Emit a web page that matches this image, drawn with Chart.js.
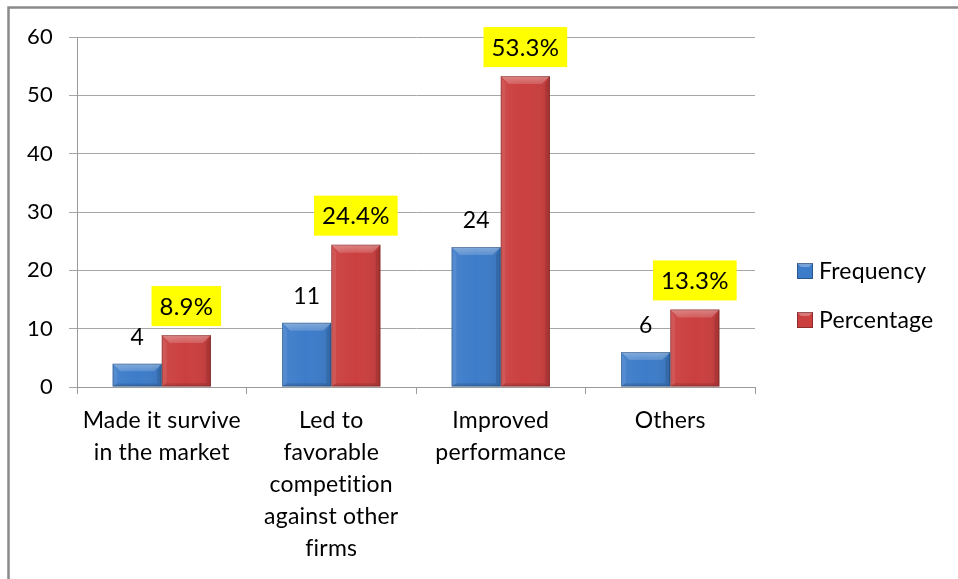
<!DOCTYPE html>
<html>
<head>
<meta charset="utf-8">
<script src="https://cdn.jsdelivr.net/npm/chart.js@4/dist/chart.umd.min.js"></script>
<style>
  html, body { margin: 0; padding: 0; background: #ffffff; }
  #wrap { width: 958px; height: 579px; position: relative; }
</style>
</head>
<body>
<div id="wrap"><canvas id="chart" width="958" height="579"></canvas></div>
<script>
// Categories and the two series
const categories = [
  ["Made it survive", "in the market"],
  ["Led to", "favorable", "competition", "against other", "firms"],
  ["Improved", "performance"],
  ["Others"]
];
const frequency = [4, 11, 24, 6];
const percentage = [8.9, 24.4, 53.3, 13.3];
const seriesNames = ["Frequency", "Percentage"];
const yTicks = [0, 10, 20, 30, 40, 50, 60];

const FONT = "Lato, 'Liberation Sans', sans-serif";
const BLUE = "#3d7cc9";
const RED = "#cb3f3f";

// Outer frame of the chart object; also turns off ligatures for all text
const framePlugin = {
  id: "frame",
  beforeDraw(chart) {
    const ctx = chart.ctx;
    if ("letterSpacing" in ctx) ctx.letterSpacing = "0.2px";
    ctx.save();
    ctx.strokeStyle = "#8a8a8a";
    ctx.lineWidth = 2.5;
    ctx.beginPath();
    ctx.moveTo(8.5, 579);
    ctx.lineTo(8.5, 7.5);
    ctx.lineTo(958, 7.5);
    ctx.stroke();
    ctx.restore();
  }
};

// Beveled look on each bar, drawn over the library's own bar elements
const bevelPlugin = {
  id: "bevel",
  afterDatasetsDraw(chart) {
    const ctx = chart.ctx;
    chart.data.datasets.forEach((ds, di) => {
      chart.getDatasetMeta(di).data.forEach(bar => {
        const l = bar.x - bar.width / 2, r = bar.x + bar.width / 2;
        const t = bar.y, b = bar.base;
        const h = b - t;
        const s = Math.min(8, h / 3, bar.width / 4);
        ctx.save();
        // side shading
        const g = ctx.createLinearGradient(l, 0, r, 0);
        g.addColorStop(0, "rgba(255,255,255,0.06)");
        g.addColorStop(0.5, "rgba(255,255,255,0)");
        g.addColorStop(1, "rgba(0,0,0,0.08)");
        ctx.fillStyle = g;
        ctx.fillRect(l, t, r - l, h);
        // top bevel
        const gt = ctx.createLinearGradient(0, t, 0, t + s);
        gt.addColorStop(0, "rgba(255,255,255,0.35)");
        gt.addColorStop(1, "rgba(255,255,255,0.15)");
        ctx.beginPath();
        ctx.moveTo(l, t); ctx.lineTo(r, t); ctx.lineTo(r - s, t + s); ctx.lineTo(l + s, t + s); ctx.closePath();
        ctx.fillStyle = gt;
        ctx.fill();
        // left bevel
        ctx.beginPath();
        ctx.moveTo(l, t); ctx.lineTo(l + s * 0.6, t + s); ctx.lineTo(l + s * 0.6, b - s * 0.4); ctx.lineTo(l, b); ctx.closePath();
        ctx.fillStyle = "rgba(255,255,255,0.08)";
        ctx.fill();
        // right bevel
        ctx.beginPath();
        ctx.moveTo(r, t); ctx.lineTo(r - s * 0.6, t + s); ctx.lineTo(r - s * 0.6, b - s * 0.4); ctx.lineTo(r, b); ctx.closePath();
        ctx.fillStyle = "rgba(0,0,0,0.10)";
        ctx.fill();
        // bottom bevel
        ctx.beginPath();
        ctx.moveTo(l, b); ctx.lineTo(l + s * 0.6, b - s * 0.4); ctx.lineTo(r - s * 0.6, b - s * 0.4); ctx.lineTo(r, b); ctx.closePath();
        ctx.fillStyle = "rgba(0,0,0,0.12)";
        ctx.fill();
        // outline
        ctx.strokeStyle = "rgba(0,0,0,0.22)";
        ctx.lineWidth = 1;
        ctx.strokeRect(l + 0.5, t + 0.5, r - l - 1, h - 1);
        ctx.restore();
      });
    });
  }
};

// Value labels: plain numbers for frequency, yellow boxes for percentage
const labelPlugin = {
  id: "valueLabels",
  afterDatasetsDraw(chart) {
    const ctx = chart.ctx;
    ctx.save();
    ctx.textAlign = "center";
    ctx.textBaseline = "middle";
    chart.getDatasetMeta(0).data.forEach((bar, i) => {
      ctx.font = "23px " + FONT;
      ctx.fillStyle = "#000000";
      ctx.fillText(String(frequency[i]), bar.x, bar.y - 26);
    });
    chart.getDatasetMeta(1).data.forEach((bar, i) => {
      const txt = percentage[i].toFixed(1) + "%";
      ctx.font = "24px " + FONT;
      const w = ctx.measureText(txt).width + 16;
      const hBox = 40;
      const cy = bar.y - 29;
      ctx.fillStyle = "#ffff00";
      ctx.fillRect(bar.x - w / 2, cy - hBox / 2, w, hBox);
      ctx.fillStyle = "#000000";
      ctx.fillText(txt, bar.x, cy + 1);
    });
    ctx.restore();
  }
};

// Legend on the right
const legendPlugin = {
  id: "sideLegend",
  afterDraw(chart) {
    const ctx = chart.ctx;
    const colors = [BLUE, RED];
    const ys = [271, 320];
    ctx.save();
    ctx.font = "23px " + FONT;
    ctx.textBaseline = "middle";
    ctx.textAlign = "left";
    seriesNames.forEach((name, i) => {
      const x = 797, y = ys[i];
      ctx.fillStyle = colors[i];
      ctx.fillRect(x, y - 8, 16, 16);
      ctx.fillStyle = "rgba(255,255,255,0.3)";
      ctx.beginPath();
      ctx.moveTo(x, y - 8); ctx.lineTo(x + 16, y - 8); ctx.lineTo(x + 12, y - 4); ctx.lineTo(x + 4, y - 4); ctx.closePath();
      ctx.fill();
      ctx.strokeStyle = "rgba(0,0,0,0.3)";
      ctx.lineWidth = 1;
      ctx.strokeRect(x + 0.5, y - 7.5, 15, 15);
      ctx.fillStyle = "#000000";
      ctx.fillText(name, x + 22, y + 1);
    });
    ctx.restore();
  }
};

new Chart(document.getElementById("chart"), {
  type: "bar",
  data: {
    labels: categories,
    datasets: [
      { label: seriesNames[0], data: frequency, backgroundColor: BLUE, borderWidth: 0 },
      { label: seriesNames[1], data: percentage, backgroundColor: RED, borderWidth: 0 }
    ]
  },
  options: {
    responsive: false,
    animation: false,
    events: [],
    layout: { padding: { left: 0, top: 37, right: 203, bottom: 0 } },
    datasets: { bar: { categoryPercentage: 0.58, barPercentage: 1.0 } },
    plugins: { legend: { display: false }, tooltip: { enabled: false } },
    scales: {
      x: {
        afterFit(scale) { scale.height = 192; },
        grid: { offset: true, drawOnChartArea: false, drawTicks: true, tickLength: 7, color: "#9a9a9a" },
        border: { color: "#9a9a9a", width: 1 },
        ticks: {
          autoSkip: false, maxRotation: 0, minRotation: 0, padding: 10,
          color: "#000000", font: { family: FONT, size: 23, lineHeight: 1.4 }
        }
      },
      y: {
        min: 0, max: 60,
        afterFit(scale) { scale.width = 77; },
        afterBuildTicks(scale) { scale.ticks = yTicks.map(v => ({ value: v })); },
        grid: { color: "#a6a6a6", lineWidth: 1, tickLength: 8 },
        border: { color: "#9a9a9a", width: 1 },
        ticks: { padding: 16, color: "#000000", font: { family: FONT, size: 22 } }
      }
    }
  },
  plugins: [framePlugin, bevelPlugin, labelPlugin, legendPlugin]
});
</script>
</body>
</html>
